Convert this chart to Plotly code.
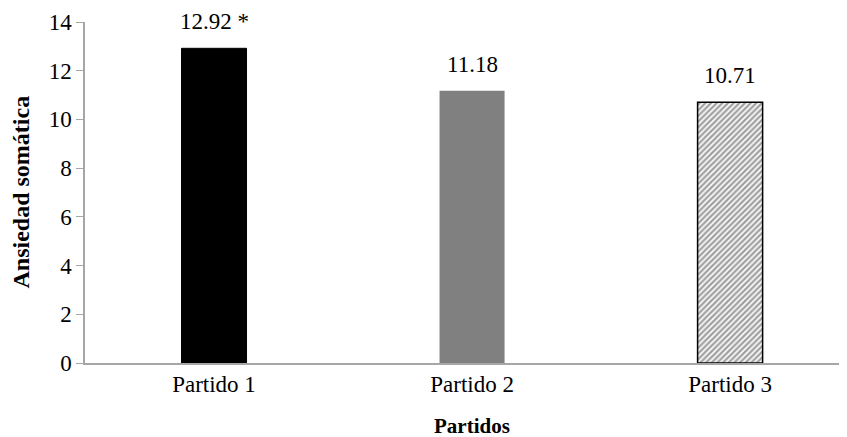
import plotly.graph_objects as go

categories = ["Partido 1", "Partido 2", "Partido 3"]
values = [12.92, 11.18, 10.71]
value_labels = ["12.92 *", "11.18", "10.71"]
y_ticks = [0, 2, 4, 6, 8, 10, 12, 14]

FONT = "'Liberation Serif', 'Times New Roman', serif"

fig = go.Figure()
fig.add_trace(go.Bar(
    x=categories,
    y=values,
    width=0.252,
    marker=dict(
        color=["#000000", "#808080", "#ffffff"],
        line=dict(color=["#000000", "#808080", "#000000"], width=[1, 0, 1.5]),
        pattern=dict(shape=["", "", "/"], fgcolor="#000000", bgcolor="#ffffff",
                     size=4, solidity=0.6, fillmode="overlay"),
    ),
    showlegend=False,
    hoverinfo="skip",
))

for c, v, t in zip(categories, values, value_labels):
    fig.add_annotation(x=c, y=v, text=t, showarrow=False, yanchor="bottom",
                       yshift=12, font=dict(family=FONT, size=23, color="#000000"))

fig.add_annotation(xref="paper", yref="paper", x=0, y=0.5, xshift=-65,
                   xanchor="center", yanchor="middle",
                   text="<b>Ansiedad somática</b>", textangle=-90, showarrow=False,
                   font=dict(family=FONT, size=24, color="#000000"))
fig.add_annotation(xref="paper", yref="paper", x=(472 - 85) / 762, y=0, yshift=-63,
                   xanchor="center", yanchor="middle",
                   text="<b>Partidos</b>", showarrow=False,
                   font=dict(family=FONT, size=21, color="#000000"))

fig.update_layout(
    width=839, height=429,
    margin=dict(l=77, r=0, t=14, b=74),
    paper_bgcolor="#ffffff", plot_bgcolor="#ffffff",
    font=dict(family=FONT, size=23, color="#000000"),
    xaxis=dict(range=[-0.5, 2.453], showline=True, linecolor="#a6a6a6", linewidth=1.5,
               ticks="", showgrid=False, zeroline=False, tickfont=dict(size=23),
               fixedrange=True),
    yaxis=dict(range=[0, 14], tickvals=y_ticks, showline=True, linecolor="#a6a6a6",
               linewidth=1.5, ticks="outside", ticklen=7, tickcolor="#a6a6a6",
               showgrid=False, zeroline=False, tickfont=dict(size=23), fixedrange=True),
)

fig.write_html("out.html")
